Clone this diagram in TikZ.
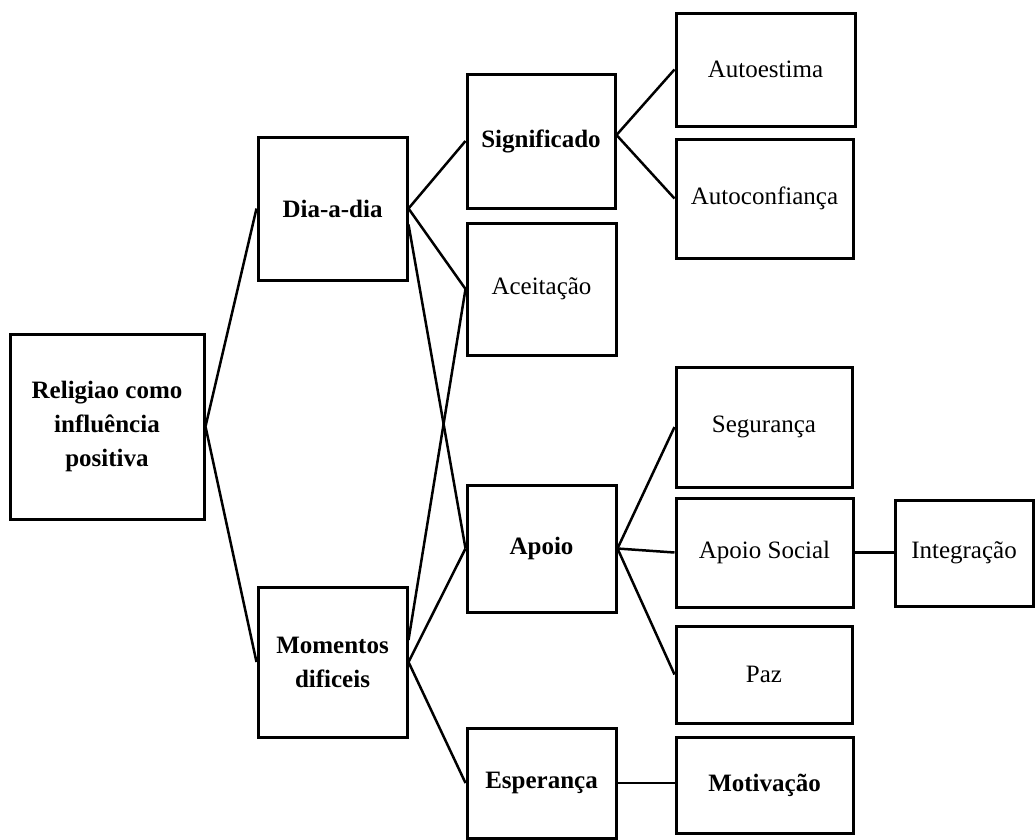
\documentclass[tikz,border=0pt]{standalone}
\usepackage{fontspec}
\setmainfont{Liberation Serif}
\begin{document}
\begin{tikzpicture}[x=1pt,y=-1pt,
    box/.style={draw, line width=3pt, align=center, inner sep=2pt,
      font=\fontsize{25}{34}\selectfont},
    strong/.style={box, font=\fontsize{25}{34}\selectfont\bfseries},
    link/.style={line width=2.5pt}]
  \useasboundingbox (0,0) rectangle (1035,839);
  \node[strong, minimum width=194pt, minimum height=185pt] (Rel) at (107,426.5) {Religiao como\\influência\\positiva};
  \node[strong, minimum width=149pt, minimum height=143pt] (Dia) at (332.5,208.5) {Dia-a-dia};
  \node[strong, minimum width=149pt, minimum height=150pt] (Mom) at (332.5,662) {Momentos\\dificeis};
  \node[strong, minimum width=148pt, minimum height=134pt] (Sig) at (541,141) {Significado};
  \node[box, minimum width=149pt, minimum height=132pt] (Acei) at (541.5,289) {Aceitação};
  \node[strong, minimum width=149pt, minimum height=127pt] (Apoio) at (541.5,548.5) {Apoio};
  \node[strong, minimum width=149pt, minimum height=110pt] (Esp) at (541.5,783) {Esperança};
  \node[box, minimum width=179pt, minimum height=113pt] (AutoE) at (765.5,69.5) {Autoestima};
  \node[box, minimum width=177pt, minimum height=119pt] (AutoC) at (764.5,198.5) {Autoconfiança};
  \node[box, minimum width=176pt, minimum height=120pt] (Seg) at (764,427) {Segurança};
  \node[box, minimum width=177pt, minimum height=109pt] (ApSoc) at (764.5,552.5) {Apoio Social};
  \node[box, minimum width=176pt, minimum height=97pt] (Paz) at (764,674.5) {Paz};
  \node[strong, minimum width=177pt, minimum height=96pt] (Motiv) at (764.5,785) {Motivação};
  \node[box, minimum width=138pt, minimum height=106pt] (Integ) at (964,553) {Integração};

  \draw[link] (Rel.east) -- (Dia.west);
  \draw[link] (Rel.east) -- (Mom.west);
  \draw[link] (Dia.east) -- (Sig.west);
  \draw[link] (Dia.east) -- (Acei.west);
  \draw[link] ([yshift=-16pt]Dia.east) -- (Apoio.west);
  \draw[link] ([yshift=22pt]Mom.east) -- (Acei.west);
  \draw[link] (Mom.east) -- (Apoio.west);
  \draw[link] (Mom.east) -- (Esp.west);
  \draw[link] ([yshift=6pt]Sig.east) -- (AutoE.west);
  \draw[link] ([yshift=6pt]Sig.east) -- (AutoC.west);
  \draw[link] (Apoio.east) -- (Seg.west);
  \draw[link] (Apoio.east) -- (ApSoc.west);
  \draw[link] (Apoio.east) -- (Paz.west);
  \draw[link] (ApSoc.east) -- (ApSoc.east -| Integ.west);
  \draw[link] (Esp.east) -- (Esp.east -| Motiv.west);
\end{tikzpicture}
\end{document}
